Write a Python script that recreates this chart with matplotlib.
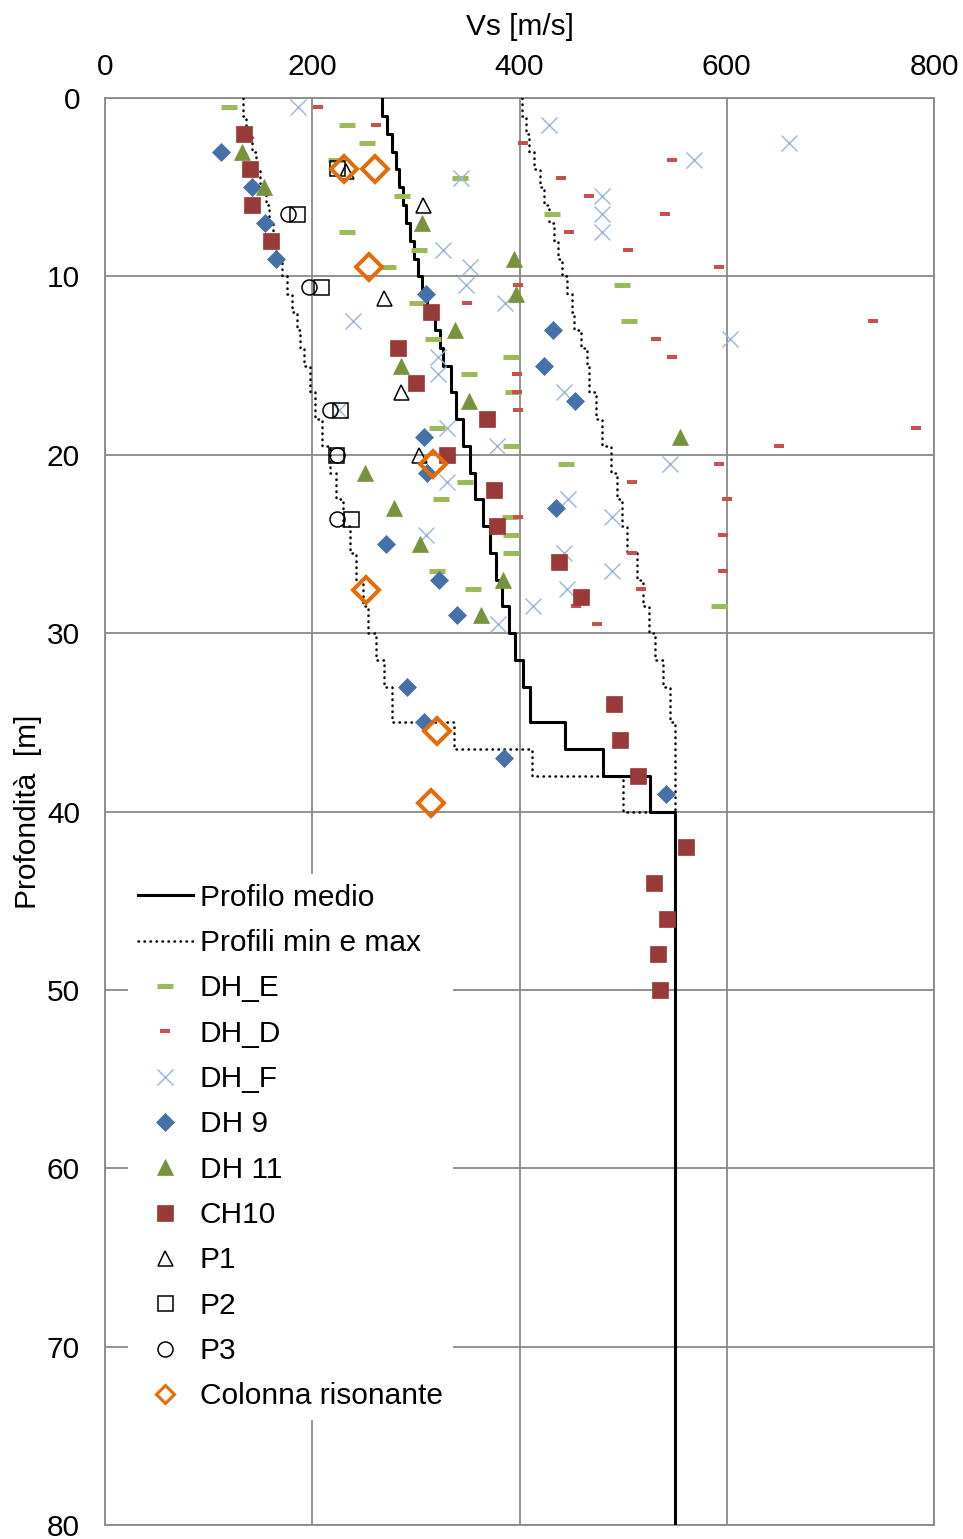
import numpy as np
import matplotlib
matplotlib.use('Agg')
import matplotlib.pyplot as plt

plt.rcParams['font.family'] = ['Liberation Sans', 'DejaVu Sans']

# ---------------- data ----------------
depth_bounds = [0, 1, 2, 3, 4, 5, 6, 7, 8, 9, 10, 11, 12, 13, 14, 15,
                16.5, 18, 19.5, 21, 22.5, 24, 25.5, 27, 28.5, 30,
                31.5, 33, 35, 36.5, 38, 40, 80]
vs_mean = [267, 272, 277, 281, 284, 288, 290, 294, 298.5, 302, 306, 311, 318, 323, 326.5,
           334, 339, 345, 352, 357, 364.5, 371.5, 377.5, 383, 390,
           396, 403, 410, 444, 481, 525.5, 550.5]
vs_min = [133, 136, 142, 146, 150, 155, 158, 162, 165, 171, 176, 180, 185, 188, 192,
          198, 203, 209, 217, 223, 230, 236, 242, 249, 254,
          262, 269, 277, 337, 412, 500, 550]
vs_max = [402, 406, 409, 414, 420, 424, 428, 433, 437, 441, 446, 451, 453, 459, 465,
          467, 474, 480, 488, 494, 499, 504, 513, 519, 525,
          531, 538, 545, 550, 550, 550, 550]

dhe_vs = [120, 234, 253, 223, 343, 287, 431, 234, 303, 273, 499, 301, 506, 317,
          392, 351, 394, 320, 392, 445, 347, 324, 391, 392, 392, 320, 355, 593]
dhe_z = [0.5, 1.5, 2.5, 3.5, 4.5, 5.5, 6.5, 7.5, 8.5, 9.5, 10.5, 11.5, 12.5, 13.5,
         14.5, 15.5, 16.5, 18.5, 19.5, 20.5, 21.5, 22.5, 23.5, 24.5, 25.5, 26.5, 27.5, 28.5]

dhd_vs = [206, 262, 403, 547, 440, 467, 540, 448, 505, 593, 399, 349, 741, 532, 547,
          398, 398, 399, 783, 650, 593, 509, 600, 399, 596, 509, 596, 517, 455, 475]
dhd_z = [0.5, 1.5, 2.5, 3.5, 4.5, 5.5, 6.5, 7.5, 8.5, 9.5, 10.5, 11.5, 12.5, 13.5, 14.5,
         15.5, 16.5, 17.5, 18.5, 19.5, 20.5, 21.5, 22.5, 23.5, 24.5, 25.5, 26.5, 27.5, 28.5, 29.5]

dhf_vs = [186, 428, 660, 568, 344, 480, 480, 480, 326, 352, 348, 386, 239, 603, 321,
          321, 443, 226, 330, 378, 545, 330, 447, 489, 310, 443, 489, 446, 413, 379]
dhf_z = [0.5, 1.5, 2.5, 3.5, 4.5, 5.5, 6.5, 7.5, 8.5, 9.5, 10.5, 11.5, 12.5, 13.5, 14.5,
         15.5, 16.5, 17.5, 18.5, 19.5, 20.5, 21.5, 22.5, 23.5, 24.5, 25.5, 26.5, 27.5, 28.5, 29.5]

dh9_vs = [112, 142, 154, 165, 310, 432, 424, 454, 308, 311, 435, 271, 322, 340, 291, 308, 385, 541]
dh9_z = [3, 5, 7, 9, 11, 13, 15, 17, 19, 21, 23, 25, 27, 29, 33, 35, 37, 39]

dh11_vs = [132, 153, 306, 395, 397, 338, 286, 351, 555, 251, 279, 304, 384, 363]
dh11_z = [3, 5, 7, 9, 11, 13, 15, 17, 19, 21, 23, 25, 27, 29]

ch10_vs = [134, 140, 142, 160, 315, 283, 300, 369, 330, 375, 378, 438, 459,
           491, 497, 514, 561, 530, 542, 534, 536]
ch10_z = [2, 4, 6, 8, 12, 14, 16, 18, 20, 22, 24, 26, 28,
          34, 36, 38, 42, 44, 46, 48, 50]

p1_vs = [233, 307, 269, 286, 303]
p1_z = [4.1, 6, 11.2, 16.5, 20]

p2_vs = [224, 185, 208, 227, 223, 237]
p2_z = [3.9, 6.5, 10.6, 17.5, 20, 23.6]

p3_vs = [177, 197, 217, 224, 224]
p3_z = [6.5, 10.6, 17.5, 20, 23.6]

rc_vs = [231, 261, 255, 317, 252, 320, 315]
rc_z = [4, 4, 9.5, 20.5, 27.6, 35.5, 39.5]

x_ticks = [0, 200, 400, 600, 800]
y_ticks = [0, 10, 20, 30, 40, 50, 60, 70, 80]


def step_xy(bounds, vals):
    b = np.asarray(bounds, dtype=float)
    xs = np.repeat(np.asarray(vals, dtype=float), 2)
    ys = np.column_stack([b[:-1], b[1:]]).ravel()
    return xs, ys


# ---------------- figure ----------------
W, H = 963, 1539
fig = plt.figure(figsize=(W / 100, H / 100), dpi=100)
ax = fig.add_axes([105 / W, 1 - 1525 / H, (934 - 105) / W, (1525 - 98) / H])

grid_c = '#898989'
fs = 21.5
dot_style = dict(color='black', lw=1.8, linestyle=(0, (0.2, 2.2)),
                 dash_capstyle='round')

x, y = step_xy(depth_bounds, vs_min)
ax.plot(x, y, zorder=3, **dot_style)
x, y = step_xy(depth_bounds, vs_max)
ax.plot(x, y, zorder=3, **dot_style)
x, y = step_xy(depth_bounds, vs_mean)
ln_mean, = ax.plot(x, y, color='black', lw=2.2, zorder=3.1, label='Profilo medio')

# legend proxy for dotted
ln_dot, = ax.plot([], [], label='Profili min e max', **dot_style)

h_dhe, = ax.plot(dhe_vs, dhe_z, ls='none', marker='_', ms=11.5, mew=3.6,
                 color='#9BBB59', label='DH_E', zorder=4)
h_dhd, = ax.plot(dhd_vs, dhd_z, ls='none', marker='_', ms=6.5, mew=2.9,
                 color='#C9504D', label='DH_D', zorder=4)
h_dhf, = ax.plot(dhf_vs, dhf_z, ls='none', marker='x', ms=11, mew=1.0,
                 color='#9AB5DA', label='DH_F', zorder=4)
h_dh9, = ax.plot(dh9_vs, dh9_z, ls='none', marker='D', ms=9.3, mew=0.5,
                 color='#4471A8', label='DH 9', zorder=4)
h_dh11, = ax.plot(dh11_vs, dh11_z, ls='none', marker='^', ms=11.5, mew=0.5,
                  color='#77933C', label='DH 11', zorder=4)
h_ch10, = ax.plot(ch10_vs, ch10_z, ls='none', marker='s', ms=11.5, mew=0.5,
                  color='#983A38', label='CH10', zorder=4)
h_p1, = ax.plot(p1_vs, p1_z, ls='none', marker='^', ms=10.8, mew=1.1,
                mfc='none', mec='black', label='P1', zorder=4)
h_p2, = ax.plot(p2_vs, p2_z, ls='none', marker='s', ms=10.8, mew=1.1,
                mfc='none', mec='black', label='P2', zorder=4)
h_p3, = ax.plot(p3_vs, p3_z, ls='none', marker='o', ms=10.8, mew=1.1,
                mfc='none', mec='black', label='P3', zorder=4)
h_rc, = ax.plot(rc_vs, rc_z, ls='none', marker='D', ms=13.3, mew=2.9,
                mfc='none', mec='#E46C0A', label='Colonna risonante', zorder=4)

ax.set_xlim(0, 800)
ax.set_ylim(80, 0)
ax.set_xticks(x_ticks)
ax.set_yticks(y_ticks)
ax.xaxis.tick_top()
ax.xaxis.set_label_position('top')
ax.tick_params(axis='both', length=0, labelsize=fs, colors='black')
ax.tick_params(axis='x', pad=12.2)
ax.tick_params(axis='y', pad=18)
ax.set_xlabel('Vs [m/s]', fontsize=fs, labelpad=13)
ax.set_ylabel('Profondità  [m]', fontsize=fs, labelpad=3.5)

ax.set_axisbelow(True)
ax.grid(True, color=grid_c, lw=1.3)
for s in ax.spines.values():
    s.set_color(grid_c)
    s.set_linewidth(1.3)

leg = ax.legend(handles=[ln_mean, ln_dot, h_dhe, h_dhd, h_dhf, h_dh9, h_dh11,
                         h_ch10, h_p1, h_p2, h_p3, h_rc],
                loc='upper left', bbox_to_anchor=(128 / W, 1 - 874 / H),
                bbox_transform=fig.transFigure, fontsize=fs, frameon=True,
                fancybox=False, framealpha=1, facecolor='white', edgecolor='none',
                borderpad=0.33, borderaxespad=0, handlelength=1.84,
                handletextpad=0.23, labelspacing=0.58, numpoints=1)
leg.get_frame().set_linewidth(0)
leg.set_zorder(10)
# smaller resonant-column marker in the legend, as in the reference
rc_handle = leg.legend_handles[-1]
rc_handle.set_markersize(9.5)
rc_handle.set_markeredgewidth(2.2)

fig.savefig('out.png', dpi=100)
